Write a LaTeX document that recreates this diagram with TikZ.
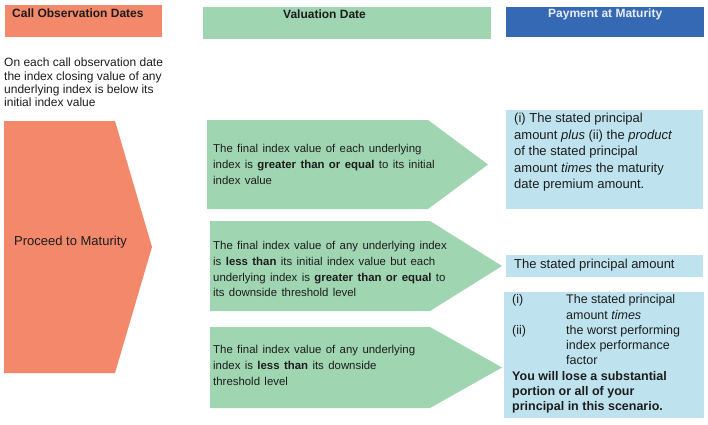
\documentclass[tikz,border=0pt]{standalone}
\usepackage{fontspec}
\setmainfont{Liberation Sans}
\usetikzlibrary{calc,positioning}
\definecolor{callorange}{HTML}{F3886A}
\definecolor{valgreen}{HTML}{A0D5B2}
\definecolor{payblue}{HTML}{3569B4}
\definecolor{paylight}{HTML}{BEE3EE}
\definecolor{inkdark}{HTML}{1C1C1C}
\newcommand{\casefont}{\fontsize{11.4}{15.6}\selectfont\spaceskip=4.4pt plus 1pt\relax}

\begin{document}
\begin{tikzpicture}[
    x=1pt, y=-1pt,
    headstyle/.style={minimum height=32pt, inner sep=0pt, anchor=north west},
    headtext/.style={inner sep=0pt, anchor=base west, font=\bfseries\fontsize{12}{14}\selectfont, text=inkdark},
    casetext/.style={inner sep=0pt, anchor=north west, align=left, font=\casefont, text=inkdark},
    paystyle/.style={fill=paylight, inner sep=0pt, anchor=north west, minimum width=197pt},
    paytext/.style={inner sep=0pt, anchor=north west, align=left, font=\fontsize{13}{16.5}\selectfont, text=inkdark}
  ]
  \useasboundingbox (0,0) rectangle (708,424);
  % column headers
  \node[headstyle, fill=callorange, minimum width=157pt] (CALLHEAD) at (5,5) {};
  \node[headstyle, fill=valgreen, minimum width=288pt] (VALHEAD) at (203,7) {};
  \node[headstyle, fill=payblue, minimum width=198pt, minimum height=30pt] (PAYHEAD) at (506,7) {};
  \node[headtext] (CALLLBL) at ($(CALLHEAD.north west)+(7,12.5)$) {Call Observation Dates};
  \node[headtext] (VALLBL) at ($(VALHEAD.north west)+(80,11.5)$) {Valuation Date};
  \node[headtext, anchor=base, text=white!88!payblue] (PAYLBL) at ($(PAYHEAD.north)+(0,10.5)$) {Payment at Maturity};

  \node[inner sep=0pt, anchor=north west, align=left, font=\fontsize{12}{13.3}\selectfont, text=inkdark] (CALLCOND) at (4,58)
    {On each call observation date\\the index closing value of any\\underlying index is below its\\initial index value};

  % arrow shapes
  \fill[callorange] (4,121) -- (115,121) -- (152,247) -- (115,373) -- (4,373) -- cycle;
  \fill[valgreen] (207,120) -- (428,120) -- (488,164.5) -- (428,209) -- (207,209) -- cycle;
  \fill[valgreen] (210,221) -- (430,221) -- (502,266) -- (430,311) -- (210,311) -- cycle;
  \fill[valgreen] (210,327) -- (430,327) -- (502,367.5) -- (430,408) -- (210,408) -- cycle;

  \node[inner sep=0pt, anchor=west, font=\fontsize{13}{15}\selectfont, text=inkdark] (PROCEED) at (14,242) {Proceed to Maturity};

  \node[casetext] (CASEA) at (213,144.5)
    {The final index value of each underlying\\index is \textbf{greater than or equal} to its initial\\index value};
  \node[casetext] (CASEB) at (213,241.5)
    {The final index value of any underlying index\\is \textbf{less than} its initial index value but each\\underlying index is \textbf{greater than or equal} to\\its downside threshold level};
  \node[casetext] (CASEC) at (213,345.5)
    {The final index value of any underlying\\index is \textbf{less than} its downside\\threshold level};

  % payments
  \node[paystyle, minimum height=99pt] (PAYA) at (506,110) {};
  \node[paystyle, minimum height=22pt] (PAYB) at (506,255) {};
  \node[paystyle, minimum width=200pt, minimum height=126pt] (PAYC) at (504,292) {};

  \node[paytext] (PAYATXT) at (514,113)
    {(i) The stated principal\\amount \textit{plus} (ii) the \textit{product}\\of the stated principal\\amount \textit{times} the maturity\\date premium amount.};
  \node[paytext] (PAYBTXT) at (514,258.5) {The stated principal amount};
  \node[paytext, font=\fontsize{12.5}{15.3}\selectfont] (PAYCTXT) at (512,294.5)
    {\makebox[54pt][l]{(i)}The stated principal\\\hspace*{54pt}amount \textit{times}\\\makebox[54pt][l]{(ii)}the worst performing\\\hspace*{54pt}index performance\\\hspace*{54pt}factor\\\textbf{You will lose a substantial}\\\textbf{portion or all of your}\\\textbf{principal in this scenario.}};
\end{tikzpicture}
\end{document}
